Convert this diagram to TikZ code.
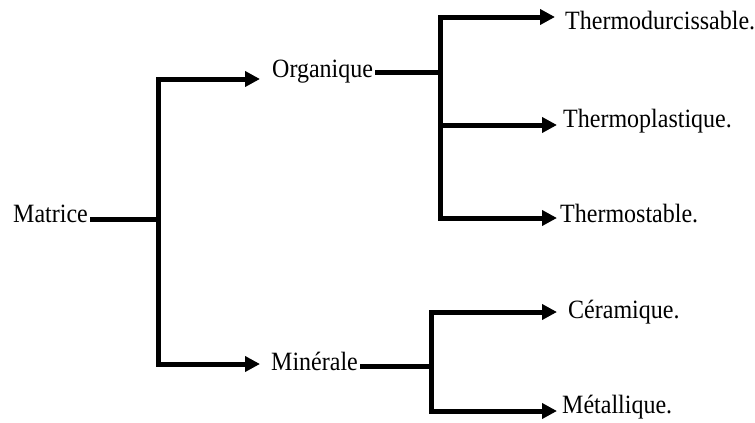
\documentclass[tikz,border=0pt]{standalone}
\usepackage{fontspec}
\setmainfont{Liberation Serif}
\usetikzlibrary{arrows.meta}
\newcommand{\tallify}[1]{\scalebox{1}[1.1]{#1}}
\begin{document}
\begin{tikzpicture}[x=1pt,y=-1pt,
  lbl/.style={anchor=base west, inner sep=0pt, font=\fontsize{24}{28}\selectfont},
  conn/.style={line width=5pt, line join=miter},
  arr/.style={conn, -{Triangle[length=15pt,width=15pt]}}]
\useasboundingbox (0,0) rectangle (755,423);
\node[lbl] (mat) at (13,222) {\tallify{Matrice}};
\node[lbl] (org) at (272,77) {\tallify{Organique}};
\node[lbl] (min) at (271,370) {\tallify{Minérale}};
\node[lbl] (thd) at (565,29) {\tallify{Thermodurcissable.}};
\node[lbl] (thp) at (563,127) {\tallify{Thermoplastique.}};
\node[lbl] (ths) at (560,222) {\tallify{Thermostable.}};
\node[lbl] (cer) at (568,318) {\tallify{Céramique.}};
\node[lbl] (met) at (562,413) {\tallify{Métallique.}};

\coordinate (j1) at (158,219);
\coordinate (j2) at (440,72);
\coordinate (j3) at (431,366);

\draw[conn] ([xshift=2pt,yshift=3pt]mat.base east) -- (j1);
\draw[arr] (j1) |- ([xshift=-12pt,yshift=-2pt]org.base west);
\draw[arr] (j1) |- ([xshift=-11pt,yshift=6pt]min.base west);

\draw[conn] ([xshift=2pt,yshift=5pt]org.base east) -- (j2);
\draw[arr] (j2) |- ([xshift=-10pt,yshift=12pt]thd.base west);
\draw[arr] (j2) |- ([xshift=-6pt,yshift=2pt]thp.base west);
\draw[arr] (j2) |- ([xshift=-3pt,yshift=4pt]ths.base west);

\draw[conn] ([xshift=2pt,yshift=4pt]min.base east) -- (j3);
\draw[arr] (j3) |- ([xshift=-11pt,yshift=6pt]cer.base west);
\draw[arr] (j3) |- ([xshift=-5pt,yshift=2pt]met.base west);
\end{tikzpicture}
\end{document}
